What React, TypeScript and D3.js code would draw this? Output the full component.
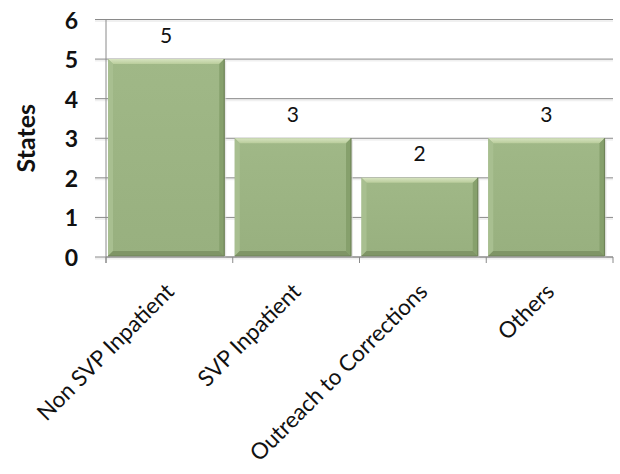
import React from "react";
import * as d3 from "d3";

// Number of states per program category
const categories = ["Non SVP Inpatient", "SVP Inpatient", "Outreach to Corrections", "Others"];
const values = [5, 3, 2, 3];
const yTicks = [0, 1, 2, 3, 4, 5, 6];
const yTitle = "States";

const W = 620;
const H = 474;
const FONT = "Lato, 'Open Sans', sans-serif";

export default function App() {
  const x = d3.scaleBand<string>().domain(categories).range([106, 613]).padding(0);
  const y = d3.scaleLinear().domain([0, 6]).range([257, 19.5]);

  const barInset = 2;
  const barW = x.bandwidth() - 10.5;
  const bev = 5;

  return (
    <svg
      width={W}
      height={H}
      style={{ position: "absolute", left: 0, top: 0, background: "#fff" }}
    >
      <defs>
        <linearGradient id="topBevel" x1="0" y1="0" x2="0" y2="1">
          <stop offset="0" stopColor="#d6e3bf" />
          <stop offset="1" stopColor="#b9cc9b" />
        </linearGradient>
        <linearGradient id="face" x1="0" y1="0" x2="0" y2="1">
          <stop offset="0" stopColor="#a0b887" />
          <stop offset="1" stopColor="#98b07f" />
        </linearGradient>
      </defs>

      {/* horizontal gridlines and y tick marks */}
      {yTicks.map((t) => (
        <g key={"g" + t}>
          <line x1={95} x2={613} y1={y(t) + 1.5} y2={y(t) + 1.5} stroke="#f0f0f0" strokeWidth={2} />
          <line x1={95} x2={613} y1={y(t)} y2={y(t)} stroke="#8a8a8a" strokeWidth={1} />
        </g>
      ))}

      {/* bars with bevelled edges */}
      {categories.map((c, i) => {
        const x0 = (x(c) as number) + barInset;
        const x1 = x0 + barW;
        const yT = y(values[i]);
        const yB = y(0) - 1;
        return (
          <g key={"b" + c}>
            <rect x={x0 + 2} y={yT + 2} width={barW} height={yB - yT} fill="#d9d9d9" opacity={0.6} />
            <rect x={x0} y={yT} width={barW} height={yB - yT} fill="url(#face)" />
            <polygon
              points={`${x0},${yT} ${x1},${yT} ${x1 - bev},${yT + bev} ${x0 + bev},${yT + bev}`}
              fill="url(#topBevel)"
            />
            <polygon
              points={`${x0},${yT} ${x0 + bev},${yT + bev} ${x0 + bev},${yB - bev} ${x0},${yB}`}
              fill="#a8bf90"
            />
            <polygon
              points={`${x1},${yT} ${x1 - bev},${yT + bev} ${x1 - bev},${yB - bev} ${x1},${yB}`}
              fill="#86a06c"
            />
            <polygon
              points={`${x0},${yB} ${x0 + bev},${yB - bev} ${x1 - bev},${yB - bev} ${x1},${yB}`}
              fill="#7f9566"
            />
            <line x1={x1} x2={x1} y1={yT} y2={yB} stroke="#6f8358" strokeWidth={1.2} />
            <line x1={x0} x2={x1} y1={yB} y2={yB} stroke="#6f8358" strokeWidth={1.2} />
          </g>
        );
      })}

      {/* axes */}
      <line x1={106} x2={106} y1={y(6)} y2={y(0) + 6} stroke="#8a8a8a" />
      <line x1={106} x2={613} y1={y(0)} y2={y(0)} stroke="#8a8a8a" />
      {categories.concat([""]).map((c, i) => {
        const xt = 106 + i * x.bandwidth();
        return <line key={"t" + i} x1={xt} x2={xt} y1={y(0)} y2={y(0) + 6} stroke="#8a8a8a" />;
      })}

      {/* y tick labels */}
      {yTicks.map((t) => (
        <text
          key={"yl" + t}
          x={78}
          y={y(t)}
          textAnchor="end"
          dominantBaseline="central"
          fontFamily={FONT}
          fontWeight="bold"
          fontSize={23}
          fill="#111"
        >
          {t}
        </text>
      ))}

      {/* y axis title */}
      <text
        transform={`translate(25,${(y(0) + y(6)) / 2}) rotate(-90)`}
        textAnchor="middle"
        dominantBaseline="central"
        fontFamily={FONT}
        fontWeight="bold"
        fontSize={25}
        fill="#111"
      >
        {yTitle}
      </text>

      {/* value labels */}
      {categories.map((c, i) => (
        <text
          key={"v" + c}
          x={(x(c) as number) + barInset + barW / 2}
          y={y(values[i]) - 25}
          textAnchor="middle"
          dominantBaseline="central"
          fontFamily={FONT}
          fontSize={21}
          fill="#111"
        >
          {values[i]}
        </text>
      ))}

      {/* category labels */}
      {categories.map((c) => {
        const cx = (x(c) as number) + x.bandwidth() / 2;
        return (
          <text
            key={"xl" + c}
            transform={`translate(${cx},287) rotate(-45)`}
            textAnchor="end"
            dominantBaseline="central"
            fontFamily={FONT}
            fontSize={22.5}
            fill="#111"
          >
            {c}
          </text>
        );
      })}
    </svg>
  );
}
